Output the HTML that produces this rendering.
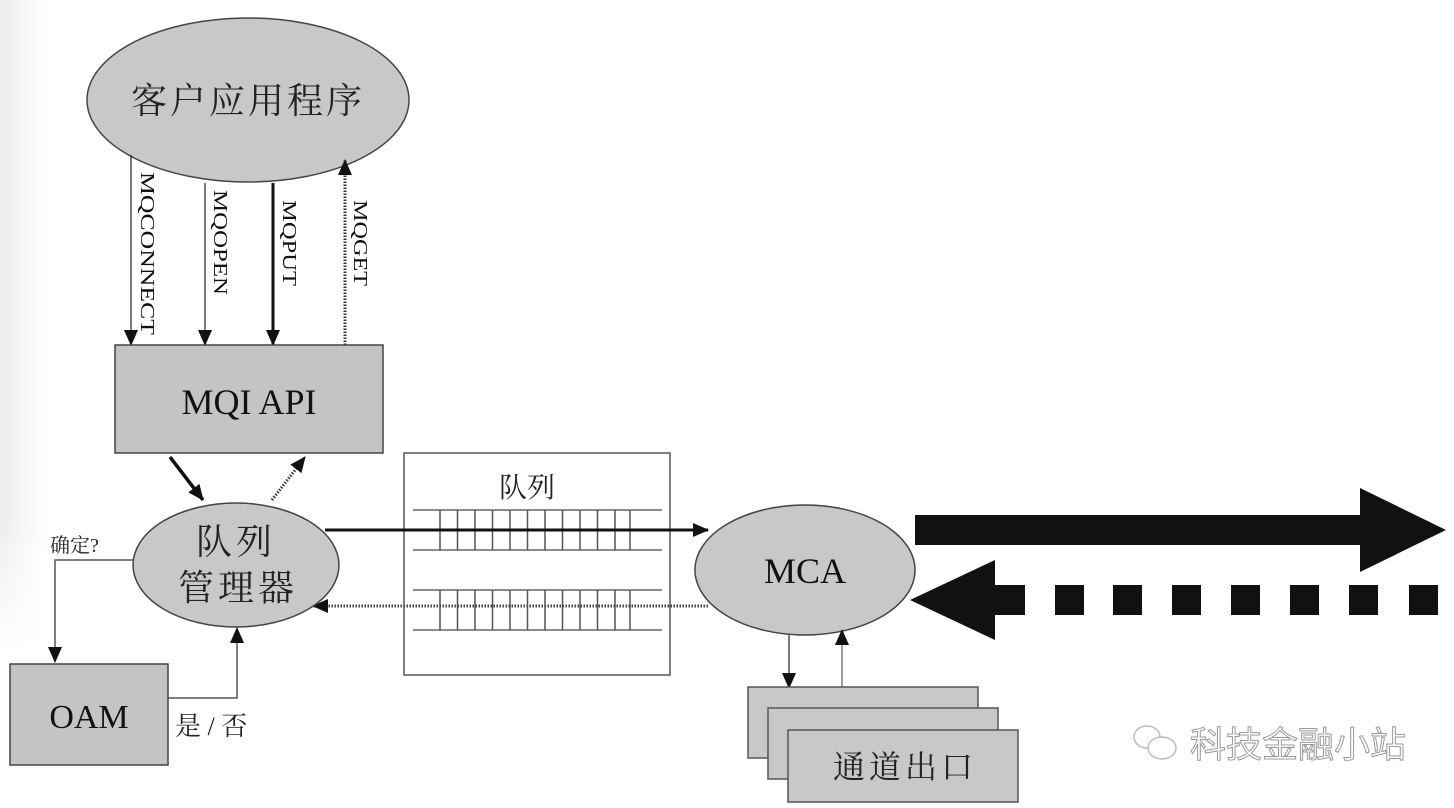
<!DOCTYPE html>
<html><head><meta charset="utf-8"><style>
html,body{margin:0;padding:0;background:#fff;}
svg{display:block;}
.cn{font-family:"Liberation Serif","Noto Serif CJK SC",serif;fill:#222;}
.lt{font-family:"Liberation Serif",serif;fill:#111;}
</style></head><body>
<svg width="1454" height="808" viewBox="0 0 1454 808" xmlns="http://www.w3.org/2000/svg">
<defs>
<marker id="ahb" markerWidth="16" markerHeight="14" refX="15" refY="7" orient="auto" markerUnits="userSpaceOnUse"><path d="M0,0 L16,7 L0,14 Z" fill="#111"/></marker>
<linearGradient id="lg" x1="0" x2="1"><stop offset="0" stop-color="#ececec"/><stop offset="1" stop-color="#fff"/></linearGradient>
<linearGradient id="lgv" x1="0" y1="0" x2="0" y2="1"><stop offset="0" stop-color="#fff" stop-opacity="0"/><stop offset="0.8" stop-color="#fff" stop-opacity="0"/><stop offset="1" stop-color="#fff" stop-opacity="1"/></linearGradient>
</defs>
<rect x="0" y="0" width="45" height="650" fill="url(#lg)"/>
<rect x="0" y="0" width="45" height="650" fill="url(#lgv)"/>

<!-- client app -->
<ellipse cx="248" cy="100" rx="161" ry="82" fill="#c8c8c8" stroke="#444" stroke-width="1.5"/>
<text x="248" y="113" class="cn" font-size="36" text-anchor="middle" letter-spacing="3">客户应用程序</text>

<!-- API arrows -->
<line x1="131" y1="155" x2="131" y2="345" stroke="#333" stroke-width="1.3" marker-end="url(#ahb)"/>
<line x1="205" y1="183" x2="205" y2="345" stroke="#333" stroke-width="1.3" marker-end="url(#ahb)"/>
<line x1="273" y1="183" x2="273" y2="345" stroke="#111" stroke-width="3" marker-end="url(#ahb)"/>
<line x1="345" y1="345" x2="345" y2="160" stroke="#333" stroke-width="3" stroke-dasharray="1.5,1.5" marker-end="url(#ahb)"/>
<text class="lt" font-size="20" textLength="163" lengthAdjust="spacingAndGlyphs" transform="translate(141,172) rotate(90)">MQCONNECT</text>
<text class="lt" font-size="20" textLength="105" lengthAdjust="spacingAndGlyphs" transform="translate(214,190) rotate(90)">MQOPEN</text>
<text class="lt" font-size="20" textLength="86" lengthAdjust="spacingAndGlyphs" transform="translate(283,200) rotate(90)">MQPUT</text>
<text class="lt" font-size="20" textLength="86" lengthAdjust="spacingAndGlyphs" transform="translate(354,200) rotate(90)">MQGET</text>

<!-- MQI API -->
<rect x="115" y="345" width="268" height="108" fill="#c4c4c4" stroke="#444" stroke-width="1.5"/>
<text x="249" y="414" class="lt" font-size="36" text-anchor="middle">MQI API</text>

<line x1="170" y1="457" x2="203" y2="500" stroke="#111" stroke-width="3.5" marker-end="url(#ahb)"/>
<line x1="272" y1="500" x2="305" y2="457" stroke="#333" stroke-width="3" stroke-dasharray="1.5,1.5" marker-end="url(#ahb)"/>

<!-- Queue box -->
<rect x="404" y="453" width="266" height="222" fill="#fff" stroke="#555" stroke-width="1.5"/>
<text x="527" y="497" class="cn" font-size="28" text-anchor="middle">队列</text>
<g stroke="#666" stroke-width="1.5">
<line x1="413" y1="510" x2="662" y2="510"/><line x1="413" y1="550" x2="662" y2="550"/>
<line x1="413" y1="590" x2="662" y2="590"/><line x1="413" y1="630" x2="662" y2="630"/>
</g>
<g stroke="#555" stroke-width="1.5">
<path d="M440,510V550M457.5,510V550M475,510V550M492.5,510V550M510,510V550M527.5,510V550M545,510V550M562.5,510V550M580,510V550M597.5,510V550M615,510V550M630,510V550"/>
<path d="M440,590V630M457.5,590V630M475,590V630M492.5,590V630M510,590V630M527.5,590V630M545,590V630M562.5,590V630M580,590V630M597.5,590V630M615,590V630M630,590V630"/>
</g>

<line x1="325" y1="530" x2="708" y2="530" stroke="#111" stroke-width="3" marker-end="url(#ahb)"/>
<line x1="708" y1="606" x2="313" y2="606" stroke="#444" stroke-width="3" stroke-dasharray="1.5,1.5" marker-end="url(#ahb)"/>

<!-- Queue manager -->
<ellipse cx="236" cy="565" rx="103" ry="62" fill="#c8c8c8" stroke="#444" stroke-width="1.5"/>
<text x="236" y="554" class="cn" font-size="36" text-anchor="middle" letter-spacing="4">队列</text>
<text x="238" y="600" class="cn" font-size="36" text-anchor="middle" letter-spacing="4">管理器</text>

<polyline points="133,560 55,560 55,662" fill="none" stroke="#555" stroke-width="1.5" marker-end="url(#ahb)"/>
<text x="50" y="552" class="cn" font-size="20">确定?</text>
<polyline points="168,698 237,698 237,628" fill="none" stroke="#555" stroke-width="1.5" marker-end="url(#ahb)"/>
<text x="175" y="735" class="cn" font-size="26">是 / 否</text>

<rect x="10" y="664" width="158" height="101" fill="#c4c4c4" stroke="#444" stroke-width="1.5"/>
<text x="89" y="728" class="lt" font-size="34" text-anchor="middle">OAM</text>

<!-- MCA -->
<ellipse cx="805" cy="570" rx="110" ry="65" fill="#c8c8c8" stroke="#444" stroke-width="1.5"/>
<text x="805" y="583" class="lt" font-size="36" text-anchor="middle">MCA</text>

<line x1="789" y1="635" x2="789" y2="688" stroke="#333" stroke-width="1.3" marker-end="url(#ahb)"/>
<line x1="842" y1="688" x2="842" y2="630" stroke="#666" stroke-width="1.3" marker-end="url(#ahb)"/>

<rect x="748" y="687" width="230" height="71" fill="#c8c8c8" stroke="#555" stroke-width="1.5"/>
<rect x="768" y="708" width="230" height="71" fill="#c8c8c8" stroke="#555" stroke-width="1.5"/>
<rect x="788" y="730" width="230" height="72" fill="#c8c8c8" stroke="#555" stroke-width="1.5"/>
<text x="905" y="778" class="cn" font-size="32" text-anchor="middle" letter-spacing="4">通道出口</text>

<polygon points="915,515 1360,515 1360,488 1446,530 1360,572 1360,545 915,545" fill="#111"/>
<polygon points="910,600 995,560 995,640" fill="#111"/>
<g fill="#111">
<rect x="995" y="585" width="30" height="30"/>
<rect x="1055" y="585" width="29" height="30"/>
<rect x="1113" y="585" width="29" height="30"/>
<rect x="1172" y="585" width="29" height="30"/>
<rect x="1231" y="585" width="29" height="30"/>
<rect x="1290" y="585" width="29" height="30"/>
<rect x="1349" y="585" width="29" height="30"/>
<rect x="1409" y="585" width="29" height="30"/>
</g>

<g fill="#fff" stroke="#bbb" stroke-width="1.5">
<ellipse cx="1147" cy="737" rx="13" ry="11"/>
<ellipse cx="1162" cy="748" rx="14" ry="11"/>
</g>
<text x="1190" y="757" font-family="Liberation Sans,'Noto Sans CJK SC',sans-serif" font-size="36" fill="#fff" stroke="#999" stroke-width="1">科技金融小站</text>
</svg>
</body></html>
